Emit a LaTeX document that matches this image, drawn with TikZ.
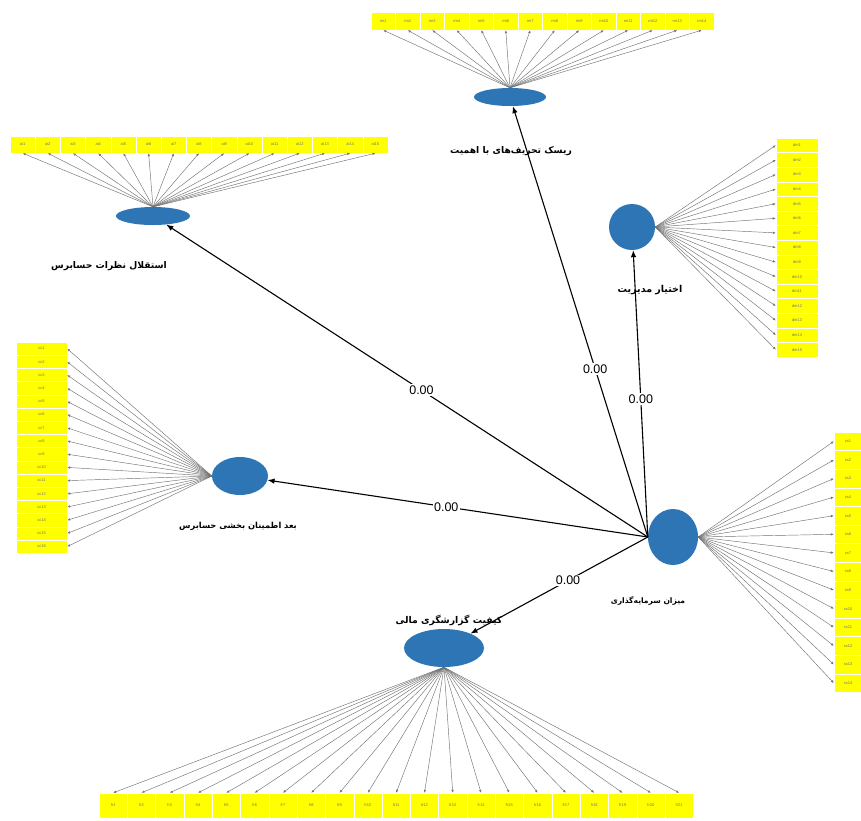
\documentclass[tikz,border=0pt]{standalone}
\usepackage{fontspec}
\setmainfont{Liberation Sans}
\newfontfamily\arabicfont[Script=Arabic]{DejaVu Sans}
\TeXXeTstate=1
\usetikzlibrary{arrows.meta,shapes.geometric}
\definecolor{latblue}{RGB}{46,117,182}
\definecolor{indyel}{RGB}{255,255,0}
\begin{document}
\begin{tikzpicture}[x=1pt,y=-1pt,
  latent/.style={ellipse, fill=latblue, draw=none, inner sep=0pt},
  ind/.style={rectangle, fill=indyel, draw=white, line width=0.4pt, inner sep=0pt,
    font=\fontsize{4}{4.5}\selectfont, text=black!55},
  load/.style={draw=black!55, line width=0.45pt, -{Latex[length=3pt,width=2.4pt]}},
  pathar/.style={draw=black, line width=1.1pt, -{Latex[length=7pt,width=5.5pt]}},
  coef/.style={fill=white, inner sep=1.5pt, font=\fontsize{12.5}{14}\selectfont},
  lbl/.style={font=\arabicfont\bfseries\fontsize{#1}{11}\selectfont}]
\useasboundingbox (0,0) rectangle (861,820);
\fill[white] (0,0) rectangle (861,820);

% latent variables
\node[latent, minimum width=72, minimum height=18] (rk) at (510,97) {};
\node[latent, minimum width=74, minimum height=18] (ai) at (153,216) {};
\node[latent, minimum width=46, minimum height=46] (dm) at (632,227) {};
\node[latent, minimum width=56, minimum height=38] (aa) at (240,476) {};
\node[latent, minimum width=50, minimum height=56] (inv) at (673,537) {};
\node[latent, minimum width=80, minimum height=38] (fr) at (444,648) {};

% labels
\node[lbl=9.2] (lrk) at (511,151) {\beginR ریسک تحریف‌های با اهمیت\endR};
\node[lbl=9.2] (lai) at (109,266) {\beginR استقلال نظرات حسابرس\endR};
\node[lbl=9.5] (ldm) at (650,290) {\beginR اختیار مدیریت\endR};
\node[lbl=8.3] (laa) at (238,526) {\beginR بعد اطمینان بخشی حسابرس\endR};
\node[lbl=9.3] (lfr) at (449,620) {\beginR کیفیت گزارشگری مالی\endR};
\node[lbl=7.6] (linv) at (648,601) {\beginR میزان سرمایه‌گذاری\endR};

% top row indicators
\foreach \i in {1,...,14}{
  \node[ind, minimum width=24.5, minimum height=18] (t\i) at ({371+24.5*(\i-0.5)},21) {rm\i};
  \draw[load] (rk.north) -- (t\i.south);
}
% left top row
\foreach \i in {1,...,15}{
  \node[ind, minimum width=25.2, minimum height=17] (a\i) at ({10+25.2*(\i-0.5)},144.5) {ai\i};
  \draw[load] (ai.north) -- (a\i.south);
}
% right upper column
\foreach \i in {1,...,15}{
  \node[ind, minimum width=42, minimum height=14.6] (d\i) at (797,{138+14.6*(\i-0.5)}) {dm\i};
  \draw[load] (dm.east) -- (d\i.west);
}
% left column
\foreach \i in {1,...,16}{
  \node[ind, minimum width=51, minimum height=13.2] (c\i) at (41.5,{342+13.2*(\i-0.5)}) {cc\i};
  \draw[load] (aa.west) -- (c\i.east);
}
% right lower column
\foreach \i in {1,...,14}{
  \node[ind, minimum width=28, minimum height=18.6] (s\i) at (848,{432+18.6*(\i-0.5)}) {ss\i};
  \draw[load] (inv.east) -- (s\i.west);
}
% bottom row
\foreach \i in {1,...,21}{
  \node[ind, minimum width=28.3, minimum height=25] (f\i) at ({99+28.3*(\i-0.5)},805.5) {fr\i};
  \draw[load] (fr.south) -- (f\i.north);
}

% structural paths
\draw[pathar] (inv.west) -- (rk) node[coef, pos=0.39] {0.00};
\draw[pathar] (inv.west) -- (ai) node[coef, pos=0.47] {0.00};
\draw[pathar] (inv.west) -- (dm) node[coef, pos=0.48] {0.00};
\draw[pathar] (inv.west) -- (aa) node[coef, pos=0.53] {0.00};
\draw[pathar] (inv.west) -- (fr) node[coef, pos=0.45] {0.00};
\end{tikzpicture}
\end{document}
